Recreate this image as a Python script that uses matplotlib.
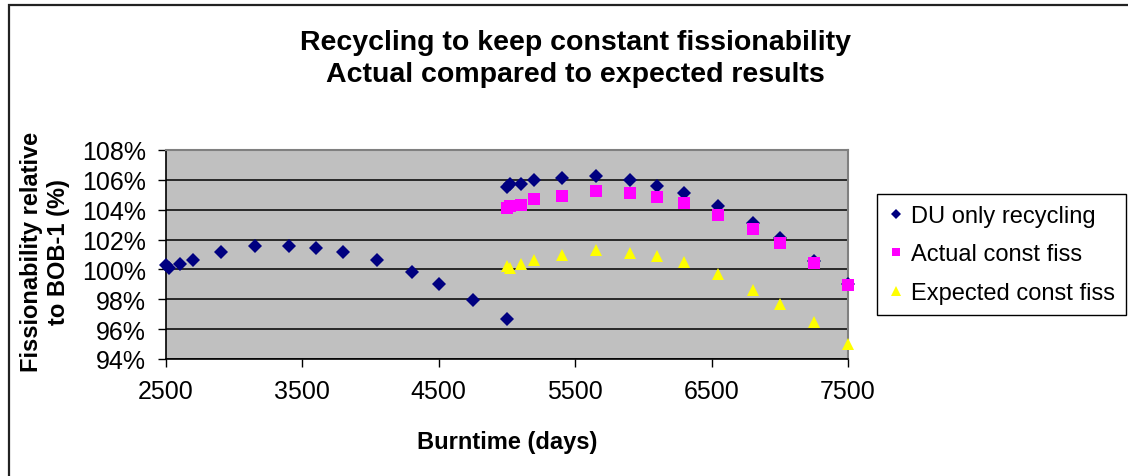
import matplotlib
matplotlib.use("Agg")
import matplotlib.pyplot as plt
from matplotlib.patches import Rectangle
from matplotlib.ticker import FuncFormatter

plt.rcParams['font.family'] = ['Liberation Sans', 'DejaVu Sans']

# Data (burntime in days, fissionability in %)
x_du = [2500, 2520, 2600, 2700, 2900, 3150, 3400, 3600, 3800, 4050, 4300, 4500, 4750,
        5000, 5000, 5020, 5100, 5200, 5400, 5650, 5900, 6100, 6300, 6550, 6800, 7000, 7250, 7500]
y_du = [100.33, 100.1, 100.38, 100.65, 101.15, 101.58, 101.58, 101.45, 101.15, 100.65, 99.85, 99.05, 97.96,
        96.65, 105.5, 105.7, 105.7, 105.96, 106.11, 106.24, 105.98, 105.58, 105.11, 104.22, 103.13, 102.09, 100.58, 99.05]

x_act = [5000, 5020, 5100, 5200, 5400, 5650, 5900, 6100, 6300, 6550, 6800, 7000, 7250, 7500]
y_act = [104.1, 104.25, 104.3, 104.71, 104.95, 105.25, 105.11, 104.84, 104.44, 103.64, 102.71, 101.78, 100.44, 98.96]

x_exp = [5000, 5020, 5100, 5200, 5400, 5650, 5900, 6100, 6300, 6550, 6800, 7000, 7250, 7500]
y_exp = [100.2, 100.1, 100.35, 100.65, 101.0, 101.27, 101.11, 100.89, 100.47, 99.67, 98.6, 97.67, 96.47, 95.02]

x_ticks = [2500, 3500, 4500, 5500, 6500, 7500]
y_ticks = [94, 96, 98, 100, 102, 104, 106, 108]

series_labels = ["DU only recycling", "Actual const fiss", "Expected const fiss"]
title_text = "Recycling to keep constant fissionability\nActual compared to expected results"
x_label = "Burntime (days)"
y_label = "Fissionability relative\nto BOB-1 (%)"

W, H = 1128, 477
fig = plt.figure(figsize=(W / 100, H / 100), dpi=100)
fig.patch.set_facecolor('white')

L, R, T, B = 166, 848, 151, 360
ax = fig.add_axes([L / W, 1 - B / H, (R - L) / W, (B - T) / H])
ax.set_facecolor('#C0C0C0')

ax.set_xlim(2500, 7500)
ax.set_ylim(94, 108)
ax.set_xticks(x_ticks)
ax.set_yticks(y_ticks)
ax.yaxis.set_major_formatter(FuncFormatter(lambda v, p: f"{int(round(v))}%"))
ax.grid(axis='y', color='black', linewidth=1.1)
ax.set_axisbelow(True)

for s in ['top', 'right']:
    ax.spines[s].set_color('#808080')
    ax.spines[s].set_linewidth(1.5)
for s in ['left', 'bottom']:
    ax.spines[s].set_color('black')
    ax.spines[s].set_linewidth(1.2)

ax.tick_params(axis='both', direction='out', length=5.5, width=1, colors='black',
               labelsize=18, pad=9)

ax.plot(x_du, y_du, linestyle='none', marker='D', markersize=7, color='#000080',
        markeredgewidth=0, clip_on=False, label=series_labels[0], zorder=3)
ax.plot(x_act, y_act, linestyle='none', marker='s', markersize=8.5, color='#FF00FF',
        markeredgewidth=0, clip_on=False, label=series_labels[1], zorder=4)
ax.plot(x_exp, y_exp, linestyle='none', marker='^', markersize=9, color='#FFFF00',
        markeredgewidth=0, clip_on=False, label=series_labels[2], zorder=5)

# Titles and axis labels
fig.text(575 / W, 1 - 59 / H, title_text, ha='center', va='center', fontsize=20.5,
         fontweight='bold', linespacing=1.32)
fig.text(507 / W, 1 - 442 / H, x_label, ha='center', va='center', fontsize=17,
         fontweight='bold')
fig.text(45 / W, 1 - 252 / H, y_label, ha='center', va='center', fontsize=17,
         fontweight='bold', rotation=90, multialignment='center', linespacing=1.2)

# Legend
leg = fig.legend(loc='center', bbox_to_anchor=(1001.5 / W, 1 - 255.5 / H),
                 bbox_transform=fig.transFigure, fontsize=17, frameon=True,
                 fancybox=False, shadow=False, framealpha=1, edgecolor='black',
                 handlelength=0.7, handletextpad=0.3, labelspacing=0.7,
                 borderpad=0.45, borderaxespad=0, markerscale=0.75)
leg.get_frame().set_linewidth(1.0)

# Outer chart border
fig.patches.append(Rectangle((8.5 / W, -0.5), 2.0, (1 - 5.5 / H) + 0.5,
                             transform=fig.transFigure, fill=False,
                             edgecolor='#222222', linewidth=1.6))

fig.savefig('out.png', dpi=100)
